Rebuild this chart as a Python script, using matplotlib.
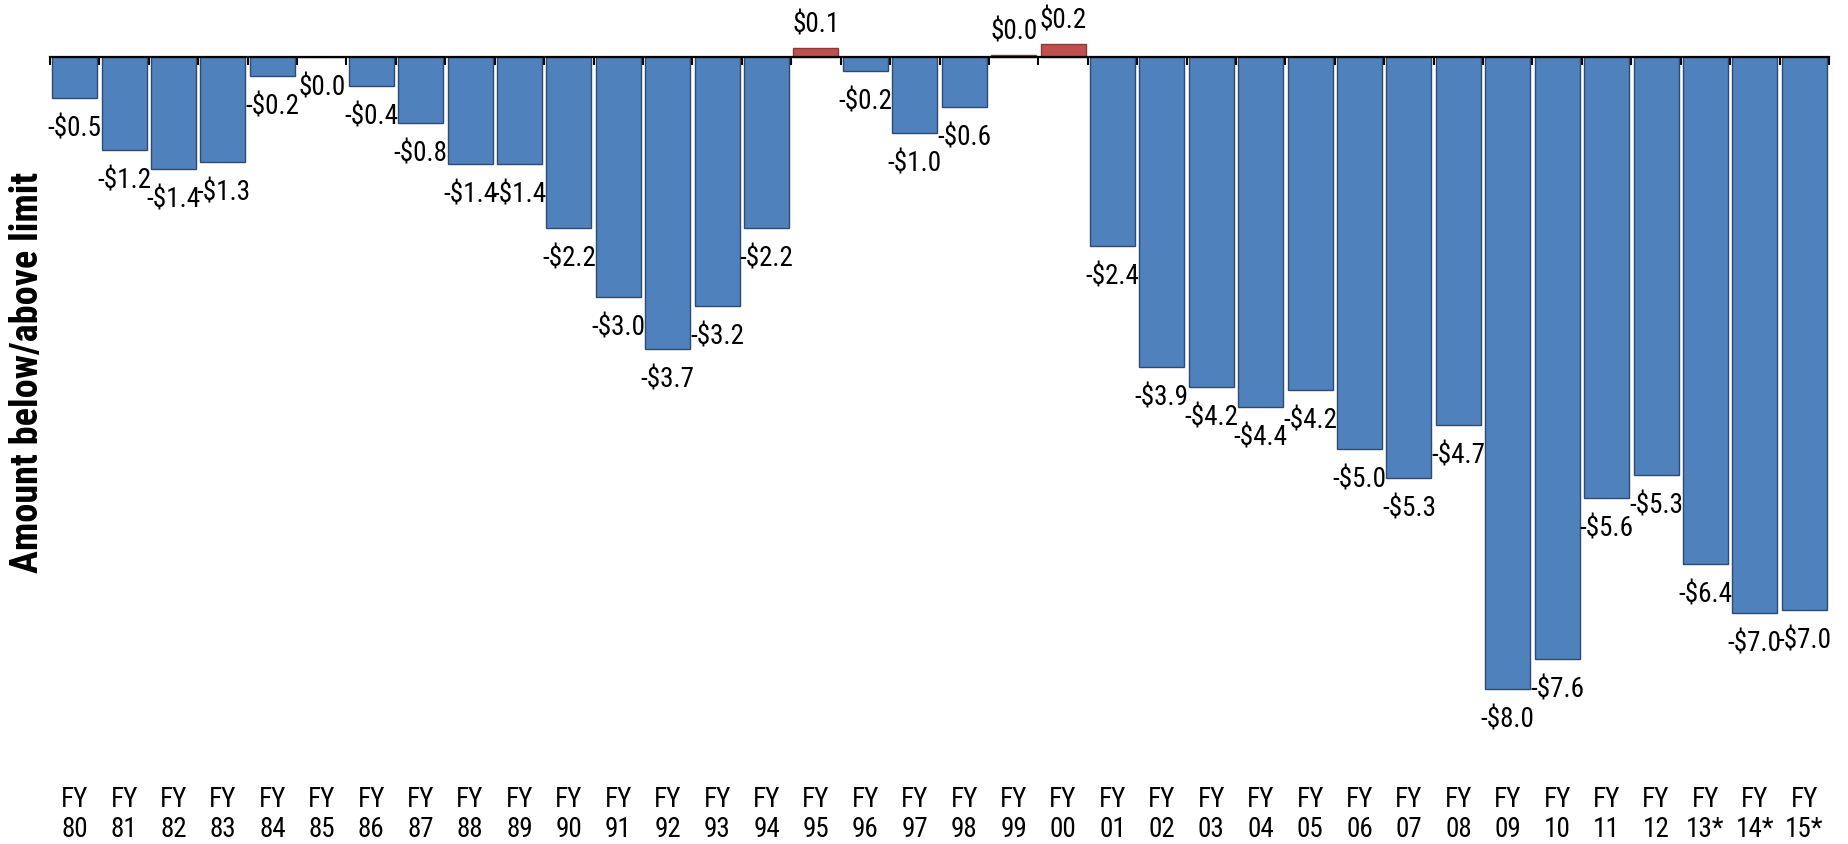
import matplotlib
matplotlib.use("Agg")
import matplotlib.pyplot as plt
import numpy as np

years = ["80", "81", "82", "83", "84", "85", "86", "87", "88", "89",
         "90", "91", "92", "93", "94", "95", "96", "97", "98", "99",
         "00", "01", "02", "03", "04", "05", "06", "07", "08", "09",
         "10", "11", "12", "13*", "14*", "15*"]
values = [-0.52, -1.18, -1.42, -1.33, -0.24, 0.0, -0.37, -0.84, -1.36, -1.36,
          -2.17, -3.04, -3.70, -3.16, -2.17, 0.11, -0.18, -0.97, -0.64, 0.02,
          0.16, -2.40, -3.93, -4.18, -4.44, -4.22, -4.96, -5.33, -4.66, -8.00,
          -7.63, -5.58, -5.30, -6.42, -7.04, -7.01]
tick_labels = ["FY\n" + y for y in years]
ylabel_text = "Amount below/above limit"

NARROW = ["Roboto Condensed", "Archivo Narrow", "DejaVu Sans"]

W, H, DPI = 1848, 844, 100
fig = plt.figure(figsize=(W / DPI, H / DPI), dpi=DPI)
left_px, right_px = 50, 1829
zero_px, bottom_px = 56.7, 782
unit_px = 79.0
ax = fig.add_axes([left_px / W, 1 - bottom_px / H,
                   (right_px - left_px) / W, (bottom_px - zero_px) / H])

x = np.arange(len(values))
colors = ["#C0504D" if v > 0 else "#4F81BD" for v in values]
edges = ["#8C3836" if v > 0 else "#2E4A70" for v in values]
ax.bar(x, values, width=0.91, color=colors, edgecolor=edges,
       linewidth=1.0, clip_on=False, zorder=2)

ax.set_xlim(-0.5, len(values) - 0.5)
ax.set_ylim(-(bottom_px - zero_px) / unit_px, 0)

for xi, v in zip(x, values):
    if v > 0:
        lab = f"${v:.1f}"
        ax.annotate(lab, (xi, v), xytext=(0, 16 * 72 / DPI), textcoords="offset points",
                    ha="center", va="baseline", fontsize=19.5, family=NARROW,
                    annotation_clip=False)
    else:
        lab = f"-${abs(v):.1f}" if v < 0 else f"${abs(v):.1f}"
        ax.annotate(lab, (xi, v), xytext=(0, -38.5 * 72 / DPI), textcoords="offset points",
                    ha="center", va="baseline", fontsize=19.5, family=NARROW,
                    annotation_clip=False)

for s in ["left", "right", "bottom"]:
    ax.spines[s].set_visible(False)
ax.spines["top"].set_linewidth(1.6)
ax.spines["top"].set_color("black")
ax.spines["top"].set_zorder(3)

ax.set_yticks([])
ax.set_xticks(x)
ax.set_xticklabels(tick_labels, fontsize=19.5, family=NARROW, linespacing=1.15)
ax.set_xticks(np.arange(len(values) + 1) - 0.5, minor=True)
ax.tick_params(axis="x", which="major", bottom=True, top=False, length=0, pad=3)
ax.tick_params(axis="x", which="minor", bottom=False, top=True, direction="in",
               length=6, width=1.5, color="black")

fig.text(27.5 / W, 1 - 372 / H, ylabel_text, rotation=90, ha="center", va="center",
         fontsize=27.5, fontweight="bold", family=NARROW)

fig.savefig("out.png", dpi=DPI)
